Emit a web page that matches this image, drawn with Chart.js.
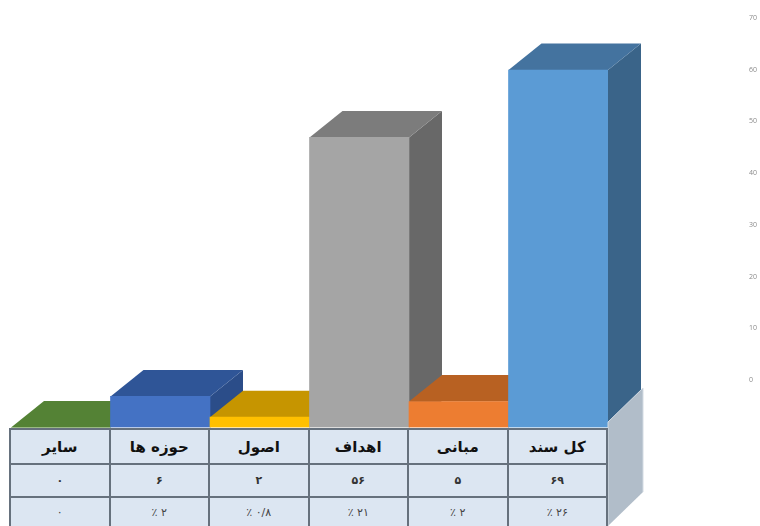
<!DOCTYPE html>
<html lang="fa">
<head>
<meta charset="utf-8">
<title>نمودار</title>
<script src="https://cdn.jsdelivr.net/npm/chart.js@4"></script>
<style>
  html, body { margin: 0; padding: 0; background: #fff; overflow: hidden; }
  #wrap { position: relative; width: 760px; height: 526px; overflow: hidden; }
  #chart { position: absolute; left: 0; top: 0; }
  #dataTable {
    position: absolute; left: 9px; top: 428px; width: 599px;
    table-layout: fixed; border-collapse: collapse; background: #dce6f2;
    font-family: "DejaVu Sans", sans-serif; color: #222;
  }
  #dataTable td { border: 2px solid #66717d; text-align: center; padding: 0; direction: rtl; }
  #dataTable tr.head td { height: 33px; font-size: 15px; font-weight: bold; color: #111; }
  #dataTable tr.vals td { height: 31px; font-size: 11px; font-weight: bold; color: #333; }
  #dataTable tr.pcts td { height: 28px; font-size: 11px; color: #444; }
</style>
</head>
<body>
<div id="wrap">
  <canvas id="chart" width="760" height="526"></canvas>
  <table id="dataTable"><tbody id="tableBody"></tbody></table>
</div>
<script>
const categories = ['سایر', 'حوزه ها', 'اصول', 'اهداف', 'مبانی', 'کل سند'];
const counts = [0, 6, 2, 56, 5, 69];
const percents = [0, 2, 0.8, 21, 2, 26];
const tickValues = [0, 10, 20, 30, 40, 50, 60, 70];

const frontColors = ['#70ad47', '#4472c4', '#ffc000', '#a5a5a5', '#ed7d31', '#5b9bd5'];
const topColors = ['#548235', '#2f5597', '#c69500', '#7c7c7c', '#b86122', '#44739f'];
const sideColors = ['#476e2d', '#2b4d89', '#a67d00', '#686868', '#9c5220', '#3a6489'];

const DEPTH_X = 33;
const DEPTH_Y = 26.5;

function toFa(n) {
    return String(n).replace('.', '/').replace(/\d/g, d => '۰۱۲۳۴۵۶۷۸۹'[d]);
}

function renderTable() {
    const rows = [
        ['head', categories],
        ['vals', counts.map(toFa)],
        ['pcts', percents.map(p => p === 0 ? toFa(0) : `${toFa(p)} ٪`)]
    ];
    document.getElementById('tableBody').innerHTML = rows.map(([cls, cells]) =>
        `<tr class="${cls}">${cells.map(c => `<td>${c}</td>`).join('')}</tr>`
    ).join('');
}

function poly(ctx, pts, color) {
    ctx.beginPath();
    pts.forEach((p, i) => i ? ctx.lineTo(p[0], p[1]) : ctx.moveTo(p[0], p[1]));
    ctx.closePath();
    ctx.fillStyle = color;
    ctx.fill();
}

// top and right faces go under the fronts, drawn left to right
const boxFaces = {
    id: 'boxFaces',
    beforeDatasetsDraw(chart) {
        const { ctx } = chart;
        chart.getDatasetMeta(0).data.forEach((bar, i) => {
            const l = bar.x - bar.width / 2, r = bar.x + bar.width / 2;
            if (counts[i] > 0) {
                poly(ctx, [[r, bar.y], [r + DEPTH_X, bar.y - DEPTH_Y], [r + DEPTH_X, bar.base - DEPTH_Y], [r, bar.base]], sideColors[i]);
            }
            poly(ctx, [[l, bar.y], [l + DEPTH_X, bar.y - DEPTH_Y], [r + DEPTH_X, bar.y - DEPTH_Y], [r, bar.y]], topColors[i]);
        });
    },
    afterDatasetsDraw(chart) {
        const { ctx, chartArea } = chart;
        // grey side of the table block
        const x = chartArea.right;
        poly(ctx, [[x, 422], [x + 35, 388], [x + 35, 492], [x, 526]], '#b1bdc9');
        ctx.strokeStyle = '#d3dbe3';
        ctx.lineWidth = 1;
        ctx.beginPath();
        ctx.moveTo(x, 526);
        ctx.lineTo(x, 422);
        ctx.lineTo(x + 35, 388);
        ctx.lineTo(x + 35, 492);
        ctx.stroke();
    }
};

renderTable();

new Chart(document.getElementById('chart'), {
    type: 'bar',
    data: {
        labels: categories,
        datasets: [{
            data: counts,
            backgroundColor: frontColors,
            borderWidth: 0,
            categoryPercentage: 1,
            barPercentage: 1,
            yAxisID: 'y'
        }]
    },
    plugins: [boxFaces],
    options: {
        responsive: false,
        animation: false,
        layout: { padding: { left: 11, top: 18, right: 0, bottom: 98.5 } },
        plugins: { legend: { display: false }, tooltip: { enabled: false } },
        scales: {
            x: { display: false },
            y: { display: false, min: 0, max: 79.05 },
            // the printed scale sits higher than the boxes, as in the source picture
            ticksAxis: {
                position: 'right',
                min: -9.19,
                max: 70,
                grid: { display: false },
                border: { display: false },
                afterFit: axis => {
                    axis.width = 152;
                    // big tick padding would otherwise eat into the plot height
                    axis.paddingTop = 0;
                    axis.paddingBottom = 0;
                },
                afterBuildTicks: axis => { axis.ticks = tickValues.map(v => ({ value: v })); },
                ticks: {
                    padding: 133,
                    autoSkip: false,
                    color: '#8a8a8a',
                    font: { family: 'Open Sans', size: 7 },
                    callback: v => String(v)
                }
            }
        }
    }
});
</script>
</body>
</html>
